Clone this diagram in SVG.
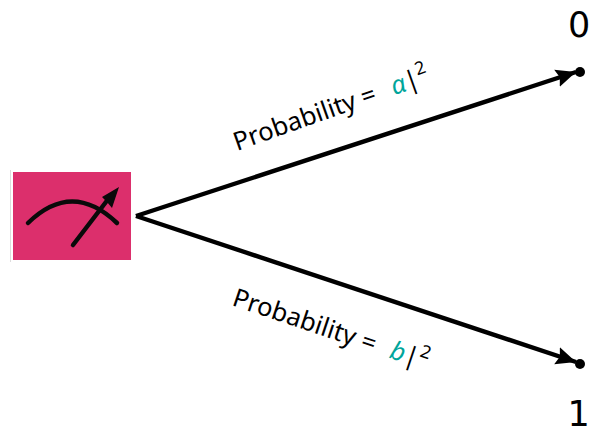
<svg xmlns="http://www.w3.org/2000/svg" width="590" height="428" viewBox="0 0 590 428">
<style>
text{font-family:"Noto Sans","Liberation Sans",sans-serif;fill:#000}
.lbl{font-size:25.5px}
.v{fill:#00a59b;font-style:italic}
.n{font-family:"DejaVu Sans",sans-serif;font-size:35px}
.c{fill:none;stroke:#000;stroke-width:4.4}
.m{fill:none;stroke:#0a0a0a;stroke-width:4.5;stroke-linecap:round}
</style>
<defs>
<marker id="a" markerUnits="userSpaceOnUse" markerWidth="22" markerHeight="22" refX="20" refY="11" orient="auto"><path d="M0 2L20 11L0 20L3 11Z" fill="#000"/></marker>
</defs>
<g id="measure">
<rect x="10" y="170" width="1" height="92" fill="#ddd"/>
<rect x="13" y="172" width="118" height="88" fill="#dc2f6c"/>
<path class="m" d="M28 223Q72 180 117 223"/>
<path class="m" d="M73 245L109 198"/>
<path d="M119 187L112 208L107 202L102 197Z" fill="#0a0a0a"/>
</g>
<g id="connectors">
<path class="c" d="M136 216L576 72" marker-end="url(#a)"/>
<path class="c" d="M136 216L576 362" marker-end="url(#a)"/>
</g>
<g id="out0"><circle cx="580" cy="72" r="5" fill="#000"/><text class="n" x="568" y="37">0</text></g>
<g id="out1"><circle cx="580" cy="364" r="5" fill="#000"/><text class="n" x="567.5" y="426">1</text></g>
<g id="label0"><text class="lbl" transform="translate(237 151) rotate(-19.5)">Probability =<tspan class="v" dx="17">α</tspan>|<tspan font-size="18" dy="-11">2</tspan></text></g>
<g id="label1"><text class="lbl" transform="translate(231 305) rotate(18.5)">Probability =<tspan class="v" dx="16">b</tspan>|<tspan font-size="18" dy="-11">2</tspan></text></g>
</svg>
